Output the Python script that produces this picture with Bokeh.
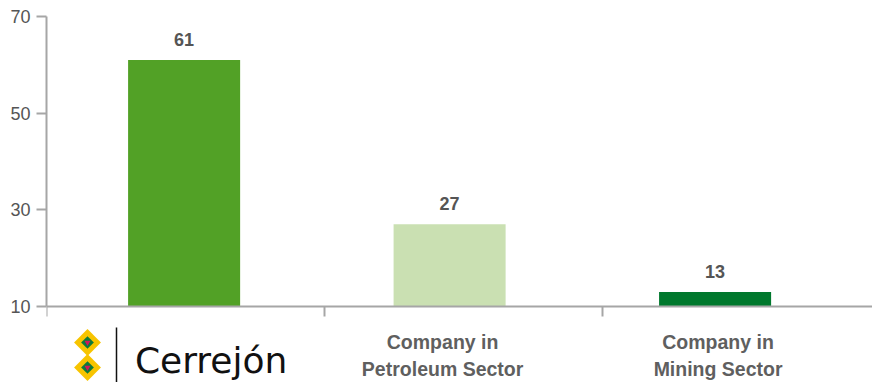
import math
from bokeh.plotting import figure
from bokeh.models import Range1d, FixedTicker, LabelSet, ColumnDataSource, Span
from bokeh.core.properties import value
from bokeh.embed import file_html
from bokeh.resources import INLINE

categories = ["Cerrejón", "Company in\nPetroleum Sector", "Company in\nMining Sector"]
values = [61, 27, 13]
y_ticks = [10, 30, 50, 70]
colors = ["#52a126", "#cae0b2", "#00782d"]

# layout constants
W, H = 872, 382
FRAME_TOP, AXIS_Y_PX, LEFT = 16, 306, 46
SLOT_PX = 278
BAR_START = 0.495
BAR_STEP = 0.955
BAR_W = 0.403
n = len(categories)
centers = [round(BAR_START + BAR_STEP * i, 4) for i in range(n)]
boundaries = list(range(n))

ymin, ymax = min(y_ticks), max(y_ticks)
upp = (ymax - ymin) / (AXIS_Y_PX - FRAME_TOP)      # data units per pixel
ybot = ymin - (H - AXIS_Y_PX) * upp

def ypx(px):
    return ymin - (px - AXIS_Y_PX) * upp

def xpx(px):
    return (px - LEFT) / SLOT_PX

src = ColumnDataSource(dict(x=centers, top=values, color=colors,
                            label=[str(v) for v in values]))

p = figure(width=W, height=H, output_backend="svg", toolbar_location=None,
           x_range=Range1d(0, (W - LEFT) / SLOT_PX), y_range=Range1d(ybot, ymax),
           min_border_left=LEFT, min_border_right=0, min_border_top=FRAME_TOP,
           min_border_bottom=0)
p.outline_line_color = None
p.xgrid.visible = False
p.ygrid.visible = False
p.xaxis.visible = False
p.background_fill_color = "white"
p.border_fill_color = "white"

p.vbar(x="x", top="top", bottom=ymin, width=BAR_W, fill_color="color",
       line_color=None, source=src)

p.add_layout(LabelSet(x="x", y="top", text="label", source=src, y_offset=21,
                      text_align="center", text_baseline="middle",
                      text_font=value("Liberation Sans"), text_font_style="bold",
                      text_font_size="18px", text_color="#555555"))

axis_col = "#a6a6a6"
ya = p.yaxis[0]
ya.ticker = FixedTicker(ticks=y_ticks)
ya.bounds = (ymin, ymax)
ya.axis_line_color = axis_col
ya.axis_line_width = 2
ya.major_tick_line_color = axis_col
ya.major_tick_line_width = 2
ya.major_tick_out = 10
ya.major_tick_in = 0
ya.minor_tick_line_color = None
ya.major_label_text_font = "Liberation Sans"
ya.major_label_text_font_size = "18px"
ya.major_label_text_color = "#555555"
ya.major_label_standoff = 6

# category axis drawn at y = ymin
p.add_layout(Span(location=ymin, dimension="width", line_color=axis_col, line_width=2))
p.segment(x0=boundaries, y0=[ymin] * n, x1=boundaries, y1=[ypx(AXIS_Y_PX + 10)] * n,
          line_color=axis_col, line_width=2)

p.text(x=centers[1:], y=[ypx(330)] * (n - 1), text=categories[1:],
       x_offset=[-7, 3],
       text_font=value("Liberation Sans"), text_font_style="bold",
       text_font_size="19.5px", text_color="#5f5f5f", text_align="center",
       text_baseline="top", text_line_height=1.25)

# logo for the first category
dx = [xpx(87)] * 2
dy = [ypx(342), ypx(367)]
p.scatter(x=dx, y=dy, marker="square", angle=math.pi / 4, size=19,
          fill_color="#f7c400", line_color=None)
p.scatter(x=dx, y=dy, marker="square", angle=math.pi / 4, size=9,
          fill_color="#0b7a3b", line_color=None)
p.scatter(x=dx, y=dy, marker="inverted_triangle", size=6,
          fill_color="#d4145a", line_color=None)
p.segment(x0=[xpx(116)], y0=[ypx(327)], x1=[xpx(116)], y1=[ypx(382)],
          line_color="#111111", line_width=1.5)
p.text(x=[centers[0]], y=[ypx(360)], text=[categories[0]], x_offset=27,
       text_color="#111111", text_font=value("DejaVu Sans"), text_font_size="36px",
       text_align="center", text_baseline="alphabetic")

open("out.html", "w").write(file_html(p, INLINE))
